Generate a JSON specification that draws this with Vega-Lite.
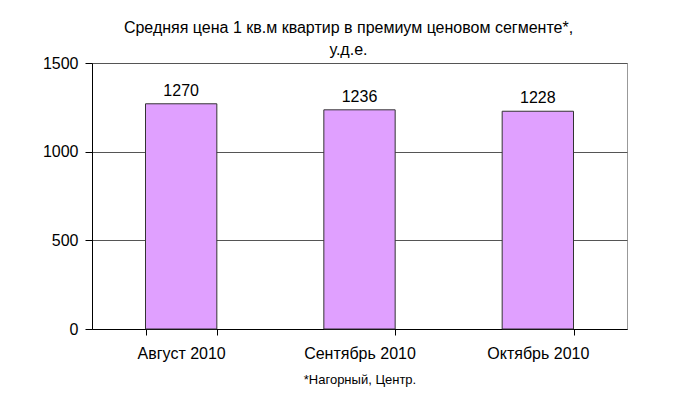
{
  "$schema": "https://vega.github.io/schema/vega-lite/v6.json",
  "autosize": "none",
  "width": 535,
  "height": 266,
  "padding": {"left": 92, "top": 63, "right": 73, "bottom": 84},
  "background": "white",
  "data": {"values": [
    {"month": "Август 2010", "price": 1270},
    {"month": "Сентябрь 2010", "price": 1236},
    {"month": "Октябрь 2010", "price": 1228}
  ]},
  "title": {
    "text": ["Средняя цена 1 кв.м квартир в премиум ценовом сегменте*,", "у.д.е."],
    "font": "Liberation Sans",
    "fontSize": 16,
    "fontWeight": "normal",
    "color": "#000000",
    "lineHeight": 22,
    "anchor": "middle",
    "dx": -11,
    "dy": 3,
    "offset": 0
  },
  "encoding": {
    "x": {
      "field": "month",
      "type": "nominal",
      "sort": null,
      "scale": {"paddingInner": 0.6, "paddingOuter": 0.3},
      "axis": {
        "title": "*Нагорный, Центр.",
        "titleFont": "Liberation Sans",
        "titleFontSize": 13,
        "titleFontWeight": "normal",
        "titleColor": "#000000",
        "titlePadding": 12,
        "labelAngle": 0,
        "labelFont": "Liberation Sans",
        "labelFontSize": 16,
        "labelColor": "#000000",
        "labelPadding": 10,
        "tickBand": "extent",
        "tickSize": 6,
        "tickColor": "#000000",
        "domainColor": "#000000",
        "grid": false
      }
    },
    "y": {
      "field": "price",
      "type": "quantitative",
      "scale": {"domain": [0, 1500], "nice": false},
      "axis": {
        "title": null,
        "values": [0, 500, 1000, 1500],
        "format": "d",
        "labelFont": "Liberation Sans",
        "labelFontSize": 16,
        "labelColor": "#000000",
        "labelPadding": 7,
        "tickSize": 7,
        "tickColor": "#000000",
        "domainColor": "#000000",
        "grid": true,
        "gridColor": "#555555",
        "gridOpacity": 1
      }
    }
  },
  "layer": [
    {
      "mark": {"type": "bar", "fill": "#E0A0FF", "stroke": "#333333", "strokeWidth": 1}
    },
    {
      "mark": {"type": "text", "baseline": "bottom", "dy": -5, "font": "Liberation Sans", "fontSize": 16, "color": "#000000"},
      "encoding": {"text": {"field": "price", "type": "quantitative", "format": "d"}}
    }
  ],
  "config": {
    "view": {"stroke": "#999999", "strokeWidth": 1}
  }
}
